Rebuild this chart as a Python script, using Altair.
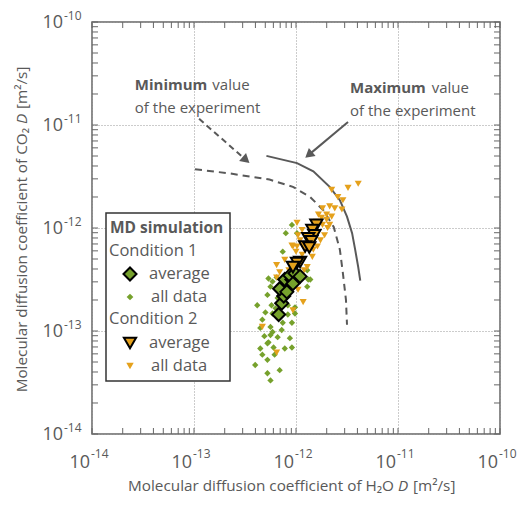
import altair as alt
import pandas as pd

# ---------------- data (log10 of D in m^2/s) ----------------
# Condition 1 (green) - averages
c1_avg_lx = [-12.17, -12.14, -12.12, -12.16, -12.09, -12.11, -12.04, -12.06, -12.01, -11.96, -12.03]
c1_avg_ly = [-12.84, -12.73, -12.66, -12.59, -12.62, -12.50, -12.50, -12.46, -12.44, -12.47, -12.54]
# Condition 2 (orange) - averages
c2_avg_lx = [-11.80, -11.84, -11.82, -11.88, -11.85, -11.91, -11.87, -11.96, -11.99, -12.03]
c2_avg_ly = [-11.97, -12.02, -12.07, -12.10, -12.13, -12.18, -12.19, -12.33, -12.34, -12.38]
# Condition 1 - all data
c1_all_lx = [-12.04, -12.10, -11.99, -12.13, -12.19, -11.88, -12.23, -11.89, -12.27, -12.25,
             -12.28, -12.38, -12.24, -12.30, -12.23, -12.08, -12.01, -12.01, -12.35, -12.25,
             -12.13, -12.04, -11.89, -11.86, -12.27, -12.18, -12.06, -12.11, -12.35, -12.25,
             -12.23, -12.28, -12.33, -12.22, -12.04, -12.28, -12.40, -12.16, -12.28, -12.25,
             -12.33, -12.18, -12.20, -12.14, -12.31, -12.21, -12.08]
c1_all_ly = [-11.97, -12.05, -12.05, -12.23, -12.48, -12.50, -12.52, -12.41, -12.49, -12.57,
             -12.65, -12.75, -12.75, -12.82, -12.83, -12.84, -12.77, -12.83, -12.97, -12.96,
             -12.92, -12.92, -12.57, -12.50, -13.11, -13.06, -13.07, -13.17, -13.17, -13.04,
             -13.01, -13.12, -13.23, -13.16, -13.16, -13.28, -13.33, -13.38, -13.41, -13.48,
             -12.89, -12.68, -12.78, -12.99, -13.05, -13.23, -12.75]
# Condition 2 - all data
c2_all_lx = [-11.39, -11.49, -11.65, -11.59, -11.54, -11.74, -11.67, -11.62, -11.55, -11.78,
             -11.70, -11.65, -11.75, -11.80, -11.67, -11.70, -11.99, -12.00, -11.99, -11.94,
             -11.74, -11.69, -11.98, -12.03, -11.79, -11.84, -11.94, -12.04, -12.16, -12.19,
             -11.89, -12.19, -11.93, -12.03, -12.33, -11.98, -12.19, -11.76, -11.72, -11.96,
             -12.11, -11.92, -11.83, -12.07]
c2_all_ly = [-11.57, -11.61, -11.63, -11.70, -11.73, -11.81, -11.79, -11.81, -11.82, -11.87,
             -11.87, -11.89, -11.90, -11.94, -11.97, -11.92, -12.18, -12.23, -11.95, -12.02,
             -11.97, -12.00, -12.07, -12.18, -12.18, -12.28, -12.26, -12.17, -12.43, -12.36,
             -12.38, -12.48, -12.72, -12.80, -12.96, -12.60, -13.21, -12.12, -12.07, -12.12,
             -12.31, -12.41, -12.21, -12.41]
# Experimental maximum (solid) and minimum (dashed) curves
max_lx = [-12.29, -11.99, -11.83, -11.67, -11.57, -11.50, -11.45, -11.42, -11.39, -11.37]
max_ly = [-11.30, -11.37, -11.45, -11.60, -11.73, -11.89, -12.05, -12.21, -12.38, -12.51]
min_lx = [-12.99, -12.65, -12.26, -12.03, -11.86, -11.73, -11.63, -11.57, -11.54, -11.51, -11.50]
min_ly = [-11.43, -11.47, -11.53, -11.60, -11.70, -11.83, -11.99, -12.21, -12.44, -12.70, -12.94]
# annotation arrows (start, head)
max_arrow_lx = [-11.49, -11.875]
max_arrow_ly = [-10.97, -11.29]
min_arrow_lx = [-12.95, -12.49]
min_arrow_ly = [-10.94, -11.34]

decades = [-14, -13, -12, -11, -10]

GREEN = "#76a12c"
ORANGE = "#e5a11c"
TXT = "#595959"
LINE = "#595959"
FONT = "Open Sans"
W, H = 408, 412
TFS = 15.3


def pts(lx, ly):
    return pd.DataFrame({"x": [10 ** v for v in lx], "y": [10 ** v for v in ly],
                         "o": list(range(len(lx)))})


xs = alt.Scale(type="log", domain=[1e-14, 1e-10])
ys = alt.Scale(type="log", domain=[1e-14, 1e-10])
dec_vals = [10.0 ** d for d in decades]
X = alt.X("x:Q", scale=xs, axis=alt.Axis(values=dec_vals, grid=True, gridDash=[1, 2],
                                          gridColor="#999", gridWidth=1, labels=False,
                                          ticks=False, domain=False, title=None))
Y = alt.Y("y:Q", scale=ys, axis=alt.Axis(values=dec_vals, grid=True, gridDash=[1, 2],
                                          gridColor="#999", gridWidth=1, labels=False,
                                          ticks=False, domain=False, title=None))

layers = []

# curves
layers.append(alt.Chart(pts(max_lx, max_ly)).mark_line(color=LINE, strokeWidth=2)
              .encode(x=X, y=Y, order="o:Q"))
layers.append(alt.Chart(pts(min_lx, min_ly)).mark_line(color=LINE, strokeWidth=2, strokeDash=[7, 5])
              .encode(x=X, y=Y, order="o:Q"))
# arrows
layers.append(alt.Chart(pts(max_arrow_lx, max_arrow_ly)).mark_line(color=LINE, strokeWidth=2)
              .encode(x=X, y=Y, order="o:Q"))
layers.append(alt.Chart(pts(min_arrow_lx, min_arrow_ly)).mark_line(color=LINE, strokeWidth=2, strokeDash=[6, 4])
              .encode(x=X, y=Y, order="o:Q"))
layers.append(alt.Chart(pts(max_arrow_lx[1:], max_arrow_ly[1:])).mark_point(
    shape="triangle-up", filled=True, color=LINE, opacity=1, size=110, angle=230)
    .encode(x=X, y=Y))
layers.append(alt.Chart(pts(min_arrow_lx[1:], min_arrow_ly[1:])).mark_point(
    shape="triangle-up", filled=True, color=LINE, opacity=1, size=110, angle=131)
    .encode(x=X, y=Y))

# data points
layers.append(alt.Chart(pts(c1_all_lx, c1_all_ly)).mark_point(
    shape="diamond", filled=True, color=GREEN, opacity=1, size=40).encode(x=X, y=Y))
layers.append(alt.Chart(pts(c2_all_lx, c2_all_ly)).mark_point(
    shape="triangle-down", filled=True, color=ORANGE, opacity=1, size=50).encode(x=X, y=Y))
layers.append(alt.Chart(pts(c1_avg_lx, c1_avg_ly)).mark_point(
    shape="diamond", filled=True, fill=GREEN, stroke="black", strokeWidth=2, opacity=1,
    size=170).encode(x=X, y=Y))
layers.append(alt.Chart(pts(c2_avg_lx, c2_avg_ly)).mark_point(
    shape="triangle-down", filled=True, fill=ORANGE, stroke="black", strokeWidth=2, opacity=1,
    size=150).encode(x=X, y=Y))

# annotation texts (positions in data coordinates)
ann_bold = pd.DataFrame({"x": [10 ** -13.58, 10 ** -11.47], "y": [10 ** -10.66, 10 ** -10.69],
                         "t": ["Minimum", "Maximum"]})
ann_norm = pd.DataFrame({"x": [10 ** -12.82, 10 ** -10.67, 10 ** -13.58, 10 ** -11.47],
                         "y": [10 ** -10.66, 10 ** -10.69, 10 ** -10.88, 10 ** -10.91],
                         "t": ["value", "value", "of the experiment", "of the experiment"]})
layers.append(alt.Chart(ann_bold).mark_text(font=FONT, fontSize=15, fontWeight="bold", color=TXT,
                                             align="left", baseline="alphabetic")
              .encode(x=X, y=Y, text="t:N"))
layers.append(alt.Chart(ann_norm).mark_text(font=FONT, fontSize=15, color=TXT,
                                             align="left", baseline="alphabetic")
              .encode(x=X, y=Y, text="t:N"))

# inner ticks on all four sides
minor = [k * 10.0 ** d for d in decades[:-1] for k in range(1, 10)] + [1e-10]
tk = pd.DataFrame({"x": minor, "y": minor})
layers.append(alt.Chart(tk).mark_rule(color="#666", strokeWidth=1)
              .encode(x=X, y=alt.value(H), y2=alt.value(H - 6)))
layers.append(alt.Chart(tk).mark_rule(color="#666", strokeWidth=1)
              .encode(x=X, y=alt.value(0), y2=alt.value(6)))
layers.append(alt.Chart(tk).mark_rule(color="#666", strokeWidth=1)
              .encode(y=Y, x=alt.value(0), x2=alt.value(6)))
layers.append(alt.Chart(tk).mark_rule(color="#666", strokeWidth=1)
              .encode(y=Y, x=alt.value(W), x2=alt.value(W - 6)))

# tick labels 10^n
lab = pd.DataFrame({"x": dec_vals, "y": dec_vals, "e": [str(d) for d in decades]})
layers.append(alt.Chart(lab).mark_text(font=FONT, fontSize=18, color=TXT, align="right",
                                        baseline="middle", dx=-2)
              .encode(x=X, y=alt.value(H + 29), text=alt.value("10")))
layers.append(alt.Chart(lab).mark_text(font=FONT, fontSize=12, color=TXT, align="left",
                                        baseline="middle", dx=-1)
              .encode(x=X, y=alt.value(H + 20), text="e:N"))
layers.append(alt.Chart(lab).mark_text(font=FONT, fontSize=18, color=TXT, align="right",
                                        baseline="middle", dy=1)
              .encode(y=Y, x=alt.value(-29), text=alt.value("10")))
layers.append(alt.Chart(lab).mark_text(font=FONT, fontSize=12, color=TXT, align="left",
                                        baseline="middle", dy=-6)
              .encode(y=Y, x=alt.value(-28), text="e:N"))

# axis titles (with italic D)
one = lab.head(1)
TY = H + 52
layers.append(alt.Chart(one).mark_text(font=FONT, fontSize=TFS, color=TXT, align="right",
                                        baseline="middle")
              .encode(x=alt.value(302), y=alt.value(TY),
                      text=alt.value("Molecular diffusion coefficient of H\u2082O")))
layers.append(alt.Chart(one).mark_text(font=FONT, fontSize=TFS, color=TXT, align="center",
                                        baseline="middle", fontStyle="italic")
              .encode(x=alt.value(311), y=alt.value(TY), text=alt.value("D")))
layers.append(alt.Chart(one).mark_text(font=FONT, fontSize=TFS, color=TXT, align="left",
                                        baseline="middle")
              .encode(x=alt.value(321), y=alt.value(TY), text=alt.value("[m\u00b2/s]")))

layers.append(alt.Chart(one).mark_text(font=FONT, fontSize=TFS, color=TXT, align="right",
                                        baseline="middle", angle=270)
              .encode(x=alt.value(-70), y=alt.value(106),
                      text=alt.value("Molecular diffusion coefficient of CO\u2082")))
layers.append(alt.Chart(one).mark_text(font=FONT, fontSize=TFS, color=TXT, align="center",
                                        baseline="middle", angle=270, fontStyle="italic")
              .encode(x=alt.value(-70), y=alt.value(97), text=alt.value("D")))
layers.append(alt.Chart(one).mark_text(font=FONT, fontSize=TFS, color=TXT, align="left",
                                        baseline="middle", angle=270)
              .encode(x=alt.value(-70), y=alt.value(87), text=alt.value("[m\u00b2/s]")))

# legend (manual)
layers.append(alt.Chart(one).mark_rect(fill="white", stroke="#333", strokeWidth=1.5)
              .encode(x=alt.value(14), x2=alt.value(138), y=alt.value(191), y2=alt.value(359)))
leg_texts = [("MD simulation", 18, 206, "bold", 15.5), ("Condition 1", 17, 229, "normal", 16.5),
             ("average", 57, 252, "normal", 16.5), ("all data", 59, 275, "normal", 16.5),
             ("Condition 2", 17, 297, "normal", 16.5), ("average", 57, 321, "normal", 16.5),
             ("all data", 59, 344, "normal", 16.5)]
for t, lx, ly, fw, fs in leg_texts:
    layers.append(alt.Chart(one).mark_text(font=FONT, fontSize=fs, color=TXT, align="left",
                                            baseline="middle", fontWeight=fw)
                  .encode(x=alt.value(lx), y=alt.value(ly), text=alt.value(t)))
layers.append(alt.Chart(one).mark_point(shape="diamond", filled=True, fill=GREEN, stroke="black",
                                         strokeWidth=2, opacity=1, size=170)
              .encode(x=alt.value(38), y=alt.value(252)))
layers.append(alt.Chart(one).mark_point(shape="diamond", filled=True, color=GREEN, opacity=1, size=45)
              .encode(x=alt.value(38), y=alt.value(275)))
layers.append(alt.Chart(one).mark_point(shape="triangle-down", filled=True, fill=ORANGE, stroke="black",
                                         strokeWidth=2, opacity=1, size=150)
              .encode(x=alt.value(38), y=alt.value(321)))
layers.append(alt.Chart(one).mark_point(shape="triangle-down", filled=True, color=ORANGE, opacity=1, size=55)
              .encode(x=alt.value(38), y=alt.value(344)))

chart = alt.layer(*layers).properties(
    width=W, height=H,
    padding={"left": 84, "top": 14, "right": 18, "bottom": 63},
    autosize=alt.AutoSizeParams(type="none"),
).configure_view(stroke="#666", strokeWidth=1.5)

chart.save("out.html", embed_options={"renderer": "svg", "actions": False})
